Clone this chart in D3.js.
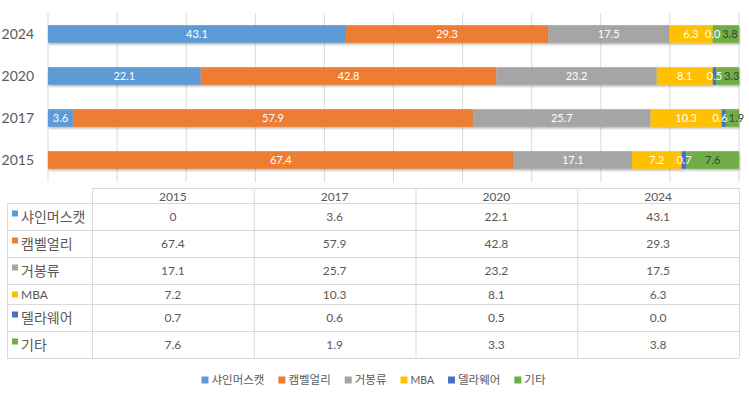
<!DOCTYPE html>
<html>
<head>
<meta charset="utf-8">
<script src="https://cdn.jsdelivr.net/npm/d3@7"></script>
<style>
  body { margin: 0; background: #fff; }
  text { font-family: "Lato", "Noto Sans CJK KR", sans-serif; }
</style>
</head>
<body>
<div id="chart"></div>
<script>
// data
var years = ["2015", "2017", "2020", "2024"];
var seriesNames = ["샤인머스캣", "캠벨얼리", "거봉류", "MBA", "델라웨어", "기타"];
var shine = ["0", "3.6", "22.1", "43.1"];
var campbell = ["67.4", "57.9", "42.8", "29.3"];
var kyoho = ["17.1", "25.7", "23.2", "17.5"];
var mba = ["7.2", "10.3", "8.1", "6.3"];
var delaware = ["0.7", "0.6", "0.5", "0.0"];
var other = ["7.6", "1.9", "3.3", "3.8"];
var xTicks = [0, 10, 20, 30, 40, 50, 60, 70, 80, 90, 100];

var seriesValues = [shine, campbell, kyoho, mba, delaware, other];
var colors = ["#5B9BD5", "#ED7D31", "#A5A5A5", "#FFC000", "#4472C4", "#70AD47"];
var labelColors = ["#fff", "#fff", "#fff", "#fff", "#fff", "#404040"];

var width = 749, height = 393;
var svg = d3.select("#chart").append("svg")
    .attr("width", width)
    .attr("height", height);

var defs = svg.append("defs");
defs.append("filter").attr("id", "shadow")
    .attr("x", "-5%").attr("y", "-20%").attr("width", "110%").attr("height", "160%")
    .append("feDropShadow")
    .attr("dx", 0.8).attr("dy", 1.5).attr("stdDeviation", 0.8)
    .attr("flood-color", "#000").attr("flood-opacity", 0.3);

var x = d3.scaleLinear().domain([0, 100]).range([48, 739]);
var y = d3.scaleBand().domain(years.slice().reverse()).range([13, 181])
    .paddingInner(0.58).paddingOuter(0.29);

// gridlines
svg.append("g").selectAll("line")
    .data(xTicks)
    .enter().append("line")
    .attr("x1", function (d) { return x(d); })
    .attr("x2", function (d) { return x(d); })
    .attr("y1", 13).attr("y2", 182)
    .style("stroke", "#d9d9d9")
    .style("stroke-width", 1);

// category axis labels
svg.append("g").selectAll("text")
    .data(years)
    .enter().append("text")
    .attr("x", 34)
    .attr("y", function (d) { return y(d) + y.bandwidth() / 2; })
    .attr("dy", "0.36em")
    .attr("text-anchor", "end")
    .style("font-size", "14px")
    .style("fill", "#595959")
    .text(function (d) { return d; });

// stack
var rows = years.map(function (yr, i) {
    var r = { year: yr };
    seriesNames.forEach(function (s, j) { r[s] = +seriesValues[j][i]; });
    return r;
});
var stacked = d3.stack().keys(seriesNames)(rows);

var layers = svg.append("g").selectAll("g")
    .data(stacked)
    .enter().append("g")
    .style("fill", function (d, i) { return colors[i]; });

layers.selectAll("rect")
    .data(function (d) { return d; })
    .enter().append("rect")
    .attr("x", function (d) { return x(d[0]); })
    .attr("y", function (d) { return y(d.data.year); })
    .attr("width", function (d) { return x(d[1]) - x(d[0]); })
    .attr("height", y.bandwidth())
    .attr("filter", "url(#shadow)");

// data labels, one group per year so crowded ones can be pushed apart
var labelGroups = {};
years.forEach(function (yr) { labelGroups[yr] = svg.append("g"); });

stacked.forEach(function (layer, j) {
    layer.forEach(function (d, i) {
        if (seriesValues[j][i] === "0") return;
        var w = x(d[1]) - x(d[0]);
        var cx = (x(d[0]) + x(d[1])) / 2;
        if (j === seriesNames.length - 1 && w < 30) cx += 4;
        labelGroups[d.data.year].append("text")
            .attr("x", cx)
            .attr("y", y(d.data.year) + y.bandwidth() / 2)
            .attr("dy", "0.36em")
            .attr("text-anchor", "middle")
            .style("font-size", "11px")
            .style("fill", labelColors[j])
            .text(seriesValues[j][i]);
    });
});

years.forEach(function (yr) {
    var labels = labelGroups[yr].selectAll("text").nodes();
    for (var k = labels.length - 1; k > 0; k--) {
        var cur = labels[k].getBBox(), prev = labels[k - 1].getBBox();
        var overlap = prev.x + prev.width + 1 - cur.x;
        if (overlap > 0) {
            d3.select(labels[k - 1]).attr("x", +labels[k - 1].getAttribute("x") - overlap);
        }
    }
});

// data table
var tableLeft = 7, firstCol = 92, tableRight = 739;
var colX = d3.scaleBand().domain(years).range([firstCol, tableRight]);
var headerTop = 188, headerBottom = 203;
var rowHeights = seriesNames.map(function (s) { return /[가-힣]/.test(s) ? 27 : 20; });
var rowTops = [];
var acc = headerBottom;
rowHeights.forEach(function (h) { rowTops.push(acc); acc += h; });
var tableBottom = acc;

var table = svg.append("g");
var lineStyle = function (sel) { sel.style("stroke", "#d9d9d9").style("stroke-width", 1); };

table.append("line").attr("x1", firstCol).attr("x2", tableRight)
    .attr("y1", headerTop + 0.5).attr("y2", headerTop + 0.5).call(lineStyle);
rowTops.concat([tableBottom]).forEach(function (t) {
    table.append("line").attr("x1", tableLeft).attr("x2", tableRight)
        .attr("y1", t + 0.5).attr("y2", t + 0.5).call(lineStyle);
});
table.append("line").attr("x1", tableLeft + 0.5).attr("x2", tableLeft + 0.5)
    .attr("y1", headerBottom).attr("y2", tableBottom).call(lineStyle);
years.forEach(function (yr) {
    table.append("line").attr("x1", colX(yr) + 0.5).attr("x2", colX(yr) + 0.5)
        .attr("y1", headerTop).attr("y2", tableBottom).call(lineStyle);
});
table.append("line").attr("x1", tableRight + 0.5).attr("x2", tableRight + 0.5)
    .attr("y1", headerTop).attr("y2", tableBottom).call(lineStyle);

table.selectAll(".hdr")
    .data(years)
    .enter().append("text")
    .attr("class", "hdr")
    .attr("x", function (d) { return colX(d) + colX.bandwidth() / 2; })
    .attr("y", (headerTop + headerBottom) / 2 + 1)
    .attr("dy", "0.36em")
    .attr("text-anchor", "middle")
    .style("font-size", "12px")
    .style("fill", "#595959")
    .text(function (d) { return d; });

seriesNames.forEach(function (s, j) {
    var top = rowTops[j], mid = top + rowHeights[j] / 2 + 0.5;
    table.append("rect")
        .attr("x", 12).attr("y", top + 7.5)
        .attr("width", 6).attr("height", 6)
        .style("fill", colors[j]);
    table.append("text")
        .attr("x", 21)
        .attr("y", mid)
        .attr("dy", "0.36em")
        .style("font-size", /[가-힣]/.test(s) ? "14px" : "12px")
        .style("fill", "#595959")
        .text(s);
    table.append("g").selectAll("text")
        .data(seriesValues[j])
        .enter().append("text")
        .attr("x", function (d, i) { return colX(years[i]) + colX.bandwidth() / 2; })
        .attr("y", mid)
        .attr("dy", "0.36em")
        .attr("text-anchor", "middle")
        .style("font-size", "12px")
        .style("fill", "#595959")
        .text(function (d) { return d; });
});

// legend
var legend = svg.append("g");
var lx = 0;
seriesNames.forEach(function (s, j) {
    var item = legend.append("g").attr("transform", "translate(" + lx + ",0)");
    item.append("rect").attr("x", 0).attr("y", -3.5).attr("width", 7).attr("height", 7)
        .style("fill", colors[j]);
    var t = item.append("text").attr("x", 10).attr("dy", "0.36em")
        .style("font-size", /[가-힣]/.test(s) ? "11.5px" : "10.5px")
        .style("fill", "#595959")
        .text(s);
    lx += 10 + t.node().getComputedTextLength() + 14;
});
var legendWidth = lx - 14;
legend.attr("transform", "translate(" + (373.5 - legendWidth / 2) + ",380)");
</script>
</body>
</html>
